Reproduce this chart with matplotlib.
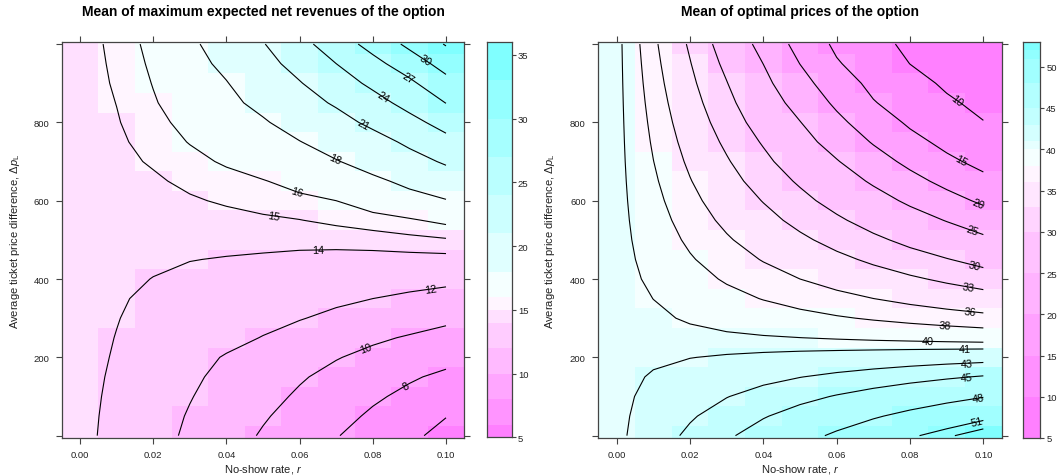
import numpy as np
import matplotlib.pyplot as plt
from matplotlib.colors import ListedColormap, BoundaryNorm

plt.rcParams['font.family'] = ['Liberation Sans', 'DejaVu Sans']
plt.rcParams['mathtext.fontset'] = 'custom'
plt.rcParams['mathtext.rm'] = 'Liberation Sans'
plt.rcParams['mathtext.it'] = 'Liberation Sans:italic'

# grid: columns = no-show rate, rows = average ticket price difference
noshow_rate = [0.00, 0.01, 0.02, 0.03, 0.04, 0.05, 0.06, 0.07, 0.08, 0.09, 0.10]
price_diff = [0, 50, 100, 150, 200, 250, 300, 350, 400, 450, 500,
              550, 600, 650, 700, 750, 800, 850, 900, 950, 1000]

revenue = [
    [14.4, 13.55, 12.64, 11.71, 10.76, 9.83, 8.96, 8.09, 7.22, 6.35, 5.48],
    [14.4, 13.63, 12.75, 11.87, 11.02, 10.17, 9.36, 8.56, 7.74, 6.87, 6.05],
    [14.4, 13.72, 12.90, 12.08, 11.31, 10.54, 9.77, 9.02, 8.26, 7.60, 6.90],
    [14.4, 13.81, 13.05, 12.29, 11.57, 10.87, 10.17, 9.51, 8.85, 8.20, 7.65],
    [14.4, 13.90, 13.22, 12.54, 11.88, 11.28, 10.69, 10.09, 9.55, 9.05, 8.54],
    [14.4, 13.97, 13.47, 12.96, 12.46, 11.94, 11.39, 10.83, 10.28, 9.85, 9.43],
    [14.4, 14.04, 13.65, 13.25, 12.86, 12.47, 12.08, 11.65, 11.22, 10.79, 10.36],
    [14.4, 14.10, 13.82, 13.52, 13.21, 12.91, 12.61, 12.30, 12.00, 11.68, 11.36],
    [14.4, 14.20, 13.98, 13.75, 13.55, 13.38, 13.17, 12.98, 12.79, 12.63, 12.43],
    [14.4, 14.30, 14.15, 14.03, 13.94, 13.84, 13.72, 13.63, 13.59, 13.60, 13.62],
    [14.4, 14.40, 14.32, 14.33, 14.32, 14.33, 14.32, 14.37, 14.49, 14.70, 14.89],
    [14.4, 14.49, 14.50, 14.61, 14.70, 14.82, 14.97, 15.24, 15.55, 15.85, 16.31],
    [14.4, 14.58, 14.68, 14.89, 15.12, 15.41, 15.71, 16.00, 16.67, 17.33, 17.88],
    [14.4, 14.67, 14.86, 15.21, 15.57, 15.93, 16.44, 17.00, 17.61, 18.45, 19.59],
    [14.4, 14.75, 15.10, 15.63, 16.17, 16.74, 17.31, 17.89, 18.80, 20.00, 21.33],
    [14.4, 14.81, 15.38, 16.06, 16.69, 17.31, 17.94, 18.90, 19.95, 21.50, 23.19],
    [14.4, 14.92, 15.65, 16.39, 17.09, 17.79, 18.90, 20.04, 21.60, 23.17, 25.00],
    [14.4, 15.02, 15.89, 16.70, 17.51, 18.55, 19.91, 21.33, 23.00, 24.89, 27.05],
    [14.4, 15.14, 16.05, 16.98, 17.91, 19.35, 20.85, 22.69, 24.56, 26.44, 29.10],
    [14.4, 15.24, 16.21, 17.26, 18.49, 20.11, 21.93, 24.00, 26.14, 28.50, 31.10],
    [14.4, 15.35, 16.36, 17.57, 19.10, 20.86, 23.10, 25.50, 28.00, 30.62, 33.20],
]

price = [
    [40.6, 42.03, 43.38, 44.70, 45.95, 47.18, 48.39, 49.56, 50.73, 51.77, 52.80],
    [40.6, 41.72, 42.79, 43.82, 44.85, 45.82, 46.78, 47.74, 48.66, 49.57, 50.48],
    [40.6, 41.42, 42.18, 42.94, 43.68, 44.42, 45.14, 45.83, 46.52, 47.20, 47.89],
    [40.6, 41.12, 41.58, 42.04, 42.50, 42.96, 43.40, 43.84, 44.29, 44.73, 45.16],
    [40.6, 40.79, 40.97, 41.13, 41.29, 41.45, 41.60, 41.76, 41.92, 42.08, 42.23],
    [40.6, 40.48, 40.36, 40.25, 40.13, 40.01, 39.88, 39.74, 39.61, 39.47, 39.34],
    [40.6, 40.24, 39.85, 39.44, 39.03, 38.61, 38.20, 37.81, 37.43, 37.05, 36.67],
    [40.6, 39.99, 39.30, 38.60, 37.92, 37.28, 36.65, 36.01, 35.39, 34.78, 34.17],
    [40.6, 39.71, 38.74, 37.78, 36.89, 36.00, 35.14, 34.27, 33.41, 32.52, 31.61],
    [40.6, 39.43, 38.18, 37.02, 35.87, 34.76, 33.65, 32.51, 31.33, 30.15, 28.85],
    [40.6, 39.15, 37.65, 36.25, 34.88, 33.52, 32.11, 30.67, 29.13, 27.51, 25.89],
    [40.6, 38.87, 37.14, 35.49, 33.89, 32.24, 30.53, 28.68, 26.76, 24.82, 22.57],
    [40.6, 38.59, 36.63, 34.75, 32.89, 30.92, 28.82, 26.61, 24.29, 21.69, 19.19],
    [40.6, 38.31, 36.11, 34.01, 31.84, 29.56, 27.05, 24.46, 21.51, 18.71, 16.06],
    [40.6, 38.03, 35.61, 33.26, 30.78, 28.08, 25.27, 22.03, 18.86, 15.90, 13.79],
    [40.6, 37.77, 35.12, 32.49, 29.70, 26.60, 23.24, 19.64, 16.36, 13.87, 11.95],
    [40.6, 37.52, 34.62, 31.70, 28.51, 25.12, 21.15, 17.45, 14.33, 12.22, 10.11],
    [40.6, 37.26, 34.13, 30.91, 27.33, 23.40, 19.16, 15.26, 12.86, 10.57, 9.05],
    [40.6, 37.00, 33.63, 30.12, 26.15, 21.67, 17.29, 13.87, 11.39, 9.40, 8.03],
    [40.6, 36.75, 33.13, 29.25, 24.96, 19.94, 15.41, 12.58, 9.96, 8.49, 7.02],
    [40.6, 36.49, 32.62, 28.36, 23.57, 18.38, 14.14, 11.30, 9.14, 7.57, 6.00],
]

revenue_levels = [5, 6, 8, 10, 12, 14, 15, 16, 18, 21, 24, 27, 30, 33, 36]
price_levels = [5, 10, 15, 20, 25, 30, 33, 36, 38, 40, 41, 43, 45, 48, 51, 52, 53]

# where the contour labels sit (level, r, price difference)
revenue_labels = [(30, 0.0947, 964), (27, 0.090, 918), (24, 0.083, 869),
                  (21, 0.0775, 795), (18, 0.0697, 708), (16, 0.0594, 626),
                  (15, 0.053, 563), (14, 0.065, 479), (12, 0.0957, 385),
                  (10, 0.078, 228), (8, 0.0886, 134)]
price_labels = [(10, 0.0927, 854), (15, 0.094, 706), (20, 0.099, 600),
                (25, 0.097, 528), (30, 0.0975, 440), (33, 0.096, 387),
                (36, 0.0965, 330), (38, 0.0896, 292), (40, 0.085, 251),
                (41, 0.095, 231), (43, 0.0954, 193), (45, 0.0954, 157),
                (48, 0.0984, 104), (51, 0.098, 45)]


def cm_colors(n):
    # R's cm.colors
    k = n // 2
    even = n % 2 == 0
    s1 = np.linspace(0.5, 0.5 / k if even else 0, k + 1 - even)
    s2 = np.linspace(0, 0.5, n - k + even)[1:]
    return [(1 - s, 1, 1) for s in s1] + [(1, 1 - s, 1) for s in s2]


regions = cm_colors(100)[::-1]
W, H = 1062, 477
edge = '#444444'
txt = '#222222'


def put_label(ax, cs, lev, r, p, span=28):
    # label on the nearest point of that level's line, turned along the line
    segs = cs.allsegs[list(cs.levels).index(lev)]
    t = ax.transData.transform((r, p))
    best = None
    for seg in segs:
        d = ax.transData.transform(seg)
        arc = np.concatenate([[0], np.cumsum(np.hypot(*np.diff(d, axis=0).T))])
        for i in range(len(d) - 1):
            a, b = d[i], d[i + 1]
            v = b - a
            L = (v ** 2).sum()
            u = 0 if L == 0 else np.clip(((t - a) * v).sum() / L, 0, 1)
            q = a + u * v
            dist = ((q - t) ** 2).sum()
            if best is None or dist < best[0]:
                best = (dist, q, d, arc, arc[i] + u * np.sqrt(L))
    _, q, d, arc, s = best
    p0 = np.array([np.interp(s - span, arc, d[:, 0]), np.interp(s - span, arc, d[:, 1])])
    p1 = np.array([np.interp(s + span, arc, d[:, 0]), np.interp(s + span, arc, d[:, 1])])
    v = p1 - p0
    ang = np.degrees(np.arctan2(v[1], v[0]))
    if ang > 90:
        ang -= 180
    if ang < -90:
        ang += 180
    x, y = ax.transData.inverted().transform(q)
    ax.text(x, y, str(lev), rotation=ang, rotation_mode='anchor', ha='center',
            va='center', fontsize=7.8, color='black')


def draw(ax_box, cax_box, z, levels, labels, title, cticks):
    nb = len(levels) - 1
    idx = np.round(np.linspace(1, 100, nb)).astype(int) - 1
    cmap = ListedColormap([regions[i] for i in idx])
    norm = BoundaryNorm(levels, nb)

    ax = fig.add_axes([ax_box[0] / W, 1 - ax_box[3] / H,
                       (ax_box[2] - ax_box[0]) / W, (ax_box[3] - ax_box[1]) / H])
    ax.pcolormesh(noshow_rate, price_diff, z, cmap=cmap, norm=norm, shading='nearest')
    cs = ax.contour(noshow_rate, price_diff, z, levels=levels, colors='black',
                    linewidths=0.8)
    ax.set_xlim(-0.005, 0.105)
    ax.set_ylim(-6, 1004.5)
    for lev, r, p in labels:
        put_label(ax, cs, lev, r, p)
    ax.set_xticks([0, 0.02, 0.04, 0.06, 0.08, 0.10])
    ax.set_xticklabels(['0.00', '0.02', '0.04', '0.06', '0.08', '0.10'])
    ax.set_yticks([0, 200, 400, 600, 800, 1000])
    ax.set_yticklabels(['', '200', '400', '600', '800', ''])
    ax.tick_params(direction='out', top=True, right=True, length=4, width=0.8,
                   labelsize=6.8, color=edge, labelcolor=txt, pad=5)
    for sp in ax.spines.values():
        sp.set_color(edge)
        sp.set_linewidth(0.9)
    ax.set_xlabel('No-show rate, $r$', fontsize=8, color=txt)
    ax.set_ylabel(r'Average ticket price difference, $\Delta p_\mathrm{L}$',
                  fontsize=8, color=txt)
    ax.xaxis.set_label_coords(0.5, (ax_box[3] - 470) / (ax_box[3] - ax_box[1]))
    ax.xaxis.label.set_va('center')
    ax.yaxis.set_label_coords((ax_box[4] - ax_box[0]) / (ax_box[2] - ax_box[0]), 0.5)
    ax.yaxis.label.set_va('center')
    fig.text((ax_box[0] + ax_box[2]) / 2 / W, 1 - 12 / H, title, ha='center',
             va='center', fontsize=10, fontweight='bold')

    cax = fig.add_axes([cax_box[0] / W, 1 - cax_box[3] / H,
                        (cax_box[2] - cax_box[0]) / W, (cax_box[3] - cax_box[1]) / H])
    cax.pcolormesh([0, 1], levels, np.arange(nb).reshape(-1, 1), cmap=cmap,
                   vmin=-0.5, vmax=nb - 0.5)
    cax.set_xlim(0, 1)
    cax.set_ylim(levels[0], levels[-1])
    cax.set_xticks([])
    cax.yaxis.tick_right()
    cax.set_yticks(cticks)
    cax.tick_params(direction='out', length=3, width=0.8, labelsize=6.8, pad=1.5,
                    color=edge, labelcolor=txt)
    for sp in cax.spines.values():
        sp.set_color(edge)
        sp.set_linewidth(0.9)


fig = plt.figure(figsize=(W / 100, H / 100), dpi=100)
draw((61.7, 43.3, 464.3, 439, 15), (486.7, 43, 511.7, 438.4), np.array(revenue),
     revenue_levels, revenue_labels,
     'Mean of maximum expected net revenues of the option',
     [5, 10, 15, 20, 25, 30, 35])
draw((598.3, 43.3, 1001.7, 439, 550), (1023.3, 43, 1040, 439), np.array(price),
     price_levels, price_labels, 'Mean of optimal prices of the option',
     [5, 10, 15, 20, 25, 30, 35, 40, 45, 50])
fig.savefig('out.png', dpi=100)
